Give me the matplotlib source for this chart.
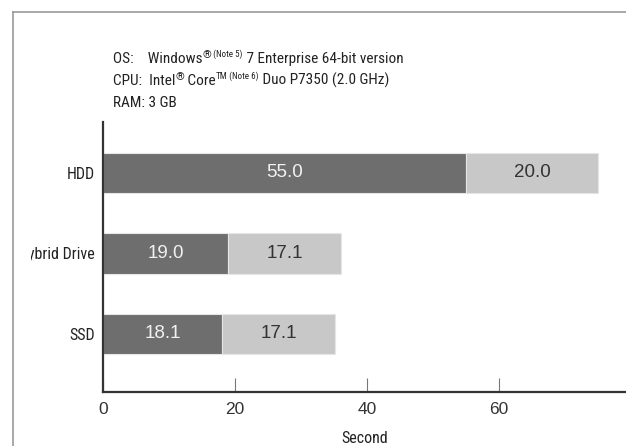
import numpy as np
import matplotlib
matplotlib.use('Agg')
import matplotlib.pyplot as plt
from matplotlib.transforms import Bbox, TransformedBbox
from matplotlib.lines import Line2D

drives = ['SSD', 'Hybrid Drive', 'HDD']
part1 = [18.1, 19.0, 55.0]
part2 = [17.1, 17.1, 20.0]
xticks = [0, 20, 40, 60]

narrow = ['Roboto Condensed', 'Liberation Sans', 'DejaVu Sans']
plain = ['Liberation Sans', 'DejaVu Sans']

fig = plt.figure(figsize=(6.26, 4.46), dpi=100)
ax = fig.add_axes([103/626, 1-392/446, 1-103/626, (392-122)/446])

y = np.arange(len(drives))
b1 = ax.barh(y, part1, height=0.5, color='#6e6e6e', edgecolor='#e6e6e6', linewidth=0.8)
b2 = ax.barh(y, part2, left=part1, height=0.5, color='#c8c8c8', edgecolor='#e6e6e6', linewidth=0.8)

for i in range(len(drives)):
    ax.text(part1[i]/2, y[i], f'{part1[i]:.1f}', ha='center', va='center',
            color='#f2f2f2', fontsize=13.5, family=plain)
    ax.text(part1[i] + part2[i]/2, y[i], f'{part2[i]:.1f}', ha='center', va='center',
            color='#333333', fontsize=13.5, family=plain)

ax.set_xlim(0, (626-103)/6.6)
ax.set_ylim(-0.72, 2.63)
ax.set_xticks(xticks)
ax.set_xticklabels([str(v) for v in xticks], family=plain, fontsize=12.5, color='#333333')
ax.set_yticks(y)
ax.set_yticklabels(drives, family=narrow, fontsize=11.5, color='#222222')
ax.tick_params(axis='y', length=0, pad=6)
ax.tick_params(axis='x', direction='in', length=10, width=0.8, color='#777777', pad=7)
for s in ['top', 'right']:
    ax.spines[s].set_visible(False)
for s in ['left', 'bottom']:
    ax.spines[s].set_linewidth(1.6)
    ax.spines[s].set_color('#333333')
ax.set_xlabel('Second', family=narrow, fontsize=11.5, color='#222222', labelpad=10)

clip = TransformedBbox(Bbox([[31/626, 0], [1, 1]]), fig.transFigure)
for lab in ax.get_yticklabels():
    lab.set_clip_box(clip)
    lab.set_clip_on(True)

# frame of the original figure
fig.add_artist(Line2D([13/626, 13/626], [0, 1-12/446], transform=fig.transFigure,
                      color='#999999', lw=1.2))
fig.add_artist(Line2D([13/626, 1], [1-12/446, 1-12/446], transform=fig.transFigure,
                      color='#999999', lw=1.2))

# header text with superscripts
renderer = fig.canvas.get_renderer()

def write_line(x0, y0, pieces):
    x = x0
    for txt, size, rise in pieces:
        t = fig.text(x/626, 1-(y0-rise)/446, txt, fontsize=size, family=narrow,
                     color='#222222', va='baseline', ha='left')
        bb = t.get_window_extent(renderer)
        x = bb.x1

base = 11
sup = 8
tiny = 6.5
write_line(113, 63, [('OS:    Windows', base, 0), ('®', sup, 5), (' (Note 5)', tiny, 6),
                     (' 7 Enterprise 64-bit version', base, 0)])
write_line(113, 85, [('CPU:  Intel', base, 0), ('®', sup, 5), (' Core', base, 0),
                     ('TM', tiny, 6), (' (Note 6)', tiny, 6),
                     (' Duo P7350 (2.0 GHz)', base, 0)])
write_line(113, 107, [('RAM: 3 GB', base, 0)])

fig.savefig('out.png', dpi=100)
